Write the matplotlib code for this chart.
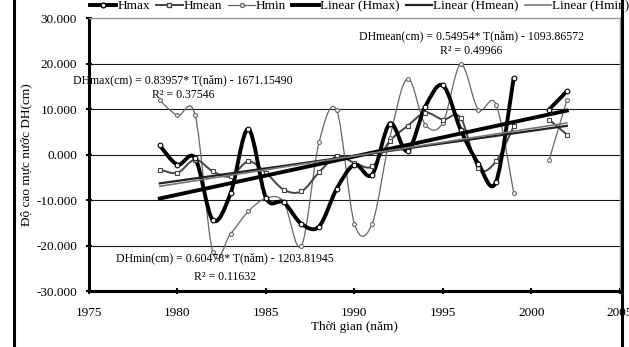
import numpy as np
import matplotlib
matplotlib.use("Agg")
import matplotlib.pyplot as plt
from matplotlib.path import Path
from matplotlib.patches import PathPatch
from matplotlib.lines import Line2D

plt.rcParams["font.family"] = ["Liberation Serif", "DejaVu Serif"]

# water level deviations (cm), no record for 2000
years = [1979, 1980, 1981, 1982, 1983, 1984, 1985, 1986, 1987, 1988, 1989,
         1990, 1991, 1992, 1993, 1994, 1995, 1996, 1997, 1998, 1999,
         2001, 2002]
hmax = [2.0, -2.2, -0.8, -14.4, -8.5, 5.6, -9.5, -10.5, -15.2, -15.8, -7.5,
        -2.2, -4.4, 6.8, 0.8, 10.5, 15.2, 5.5, -2.0, -6.0, 16.9,
        9.9, 13.9]
hmean = [-3.3, -4.0, -1.1, -3.7, -4.8, -1.5, -4.0, -7.7, -8.1, -3.9, -0.4,
         -1.8, -2.6, 3.0, 6.3, 9.2, 7.7, 8.1, -3.0, -1.5, 6.2,
         7.7, 4.4]
hmin = [11.9, 8.6, 8.6, -21.5, -17.4, -12.5, -9.6, -10.4, -20.1, 2.7, 9.7,
        -15.2, -15.2, 3.7, 16.7, 6.6, 7.0, 19.8, 9.9, 11.0, -8.4,
        -1.2, 11.9]

# number of points before the 2000 gap
first_run = 21

# linear trends: slope, intercept, R^2
trend_max = (0.83957, -1671.15490, 0.37546)
trend_mean = (0.54954, -1093.86572, 0.49966)
trend_min = (0.60478, -1203.81945, 0.11632)

series_names = ["Hmax", "Hmean", "Hmin"]
trend_names = ["Linear (Hmax)", "Linear (Hmean)", "Linear (Hmin)"]
y_ticks = [30, 20, 10, 0, -10, -20, -30]
x_ticks = [1975, 1980, 1985, 1990, 1995, 2000, 2005]


def smooth_path(xs, ys):
    # Catmull-Rom style bezier through the points, like a spreadsheet smoothed line
    pts = np.column_stack([xs, ys]).astype(float)
    verts = [pts[0]]
    codes = [Path.MOVETO]
    n = len(pts)
    for i in range(n - 1):
        p0 = pts[i - 1] if i > 0 else pts[i]
        p1 = pts[i]
        p2 = pts[i + 1]
        p3 = pts[i + 2] if i + 2 < n else pts[i + 1]
        c1 = p1 + (p2 - p0) / 6.0
        c2 = p2 - (p3 - p1) / 6.0
        verts += [c1, c2, p2]
        codes += [Path.CURVE4] * 3
    return Path(verts, codes)


def draw_series(ax, values, color, lw, marker, ms):
    x = np.array(years)
    y = np.array(values)
    for sl in (slice(0, first_run), slice(first_run, None)):
        patch = PathPatch(
            smooth_path(x[sl], y[sl]),
            facecolor="none",
            edgecolor=color,
            lw=lw,
            zorder=3
        )
        ax.add_patch(patch)
    ax.plot(
        x, y,
        linestyle="none",
        marker=marker,
        ms=ms,
        mfc="white",
        mec=color,
        mew=0.8,
        zorder=4
    )


fig = plt.figure(figsize=(6.29, 3.47), dpi=100)
ax = fig.add_axes([0.1415, 0.161, 0.844, 0.787])

for yv in y_ticks[1:-1]:
    ax.axhline(yv, color="#1a1a1a", lw=0.8, zorder=1)

draw_series(ax, hmin, "#666666", 0.9, "o", 2.8)
draw_series(ax, hmean, "#444444", 1.4, "s", 3.0)
draw_series(ax, hmax, "black", 2.8, "o", 3.4)

t = np.array([years[0], years[-1]], dtype=float)
ax.plot(t, trend_max[0] * t + trend_max[1], color="black", lw=2.8, zorder=5)
ax.plot(t, trend_mean[0] * t + trend_mean[1], color="#222222", lw=1.6, zorder=5)
ax.plot(t, trend_min[0] * t + trend_min[1], color="#777777", lw=1.2, zorder=5)

ax.set_xlim(1975, 2005)
ax.set_ylim(-30, 30)
ax.set_xticks(x_ticks)
ax.set_yticks(y_ticks)
ax.set_yticklabels([f"{v:.3f}" for v in y_ticks])
ax.tick_params(axis="both", labelsize=9.5, direction="inout",
               length=5, width=1.5, color="black")
ax.tick_params(axis="x", pad=9)
ax.tick_params(axis="y", pad=6)

for side in ("left", "bottom"):
    ax.spines[side].set_linewidth(2.2)
    ax.spines[side].set_color("black")
for side in ("top", "right"):
    ax.spines[side].set_linewidth(1.0)
    ax.spines[side].set_color("#999999")

ax.set_ylabel("Độ cao mực nước DH(cm)", fontsize=9.5)
ax.yaxis.set_label_coords(-0.107, 0.5)
ax.set_xlabel("Thời gian (năm)", fontsize=9.5)
ax.xaxis.set_label_coords(0.5, -0.108)


def equation(name, trend):
    return f"{name}(cm) = {trend[0]:.5f}* T(năm) - {abs(trend[1]):.5f}"


ax.text(1980.3, 16.4, equation("DHmax", trend_max), fontsize=8.5,
        ha="center", va="center", zorder=6)
ax.text(1980.3, 13.2, f"R² = {trend_max[2]:.5f}", fontsize=8.5,
        ha="center", va="center", zorder=6)
ax.text(1996.6, 26.0, equation("DHmean", trend_mean), fontsize=8.5,
        ha="center", va="center", zorder=6)
ax.text(1996.6, 22.8, f"R² = {trend_mean[2]:.5f}", fontsize=8.5,
        ha="center", va="center", zorder=6)
ax.text(1982.7, -22.8, equation("DHmin", trend_min), fontsize=8.5,
        ha="center", va="center", zorder=6)
ax.text(1982.7, -26.8, f"R² = {trend_min[2]:.5f}", fontsize=8.5,
        ha="center", va="center", zorder=6)

handles = [
    Line2D([], [], color="black", lw=2.8, marker="o", ms=3.4,
           mfc="white", mec="black"),
    Line2D([], [], color="#444444", lw=1.4, marker="s", ms=3.0,
           mfc="white", mec="#444444"),
    Line2D([], [], color="#666666", lw=0.9, marker="o", ms=2.8,
           mfc="white", mec="#666666"),
    Line2D([], [], color="black", lw=2.8),
    Line2D([], [], color="#222222", lw=1.6),
    Line2D([], [], color="#777777", lw=1.2),
]
fig.legend(
    handles,
    series_names + trend_names,
    loc="center left",
    bbox_to_anchor=(0.143, 0.982),
    ncol=6,
    frameon=False,
    fontsize=9.5,
    handlelength=2.0,
    handletextpad=0.1,
    columnspacing=0.45,
    borderaxespad=0,
    borderpad=0
)

# outer chart frame, cut at the right
fig.add_artist(Line2D([14 / 629, 14 / 629], [0, 1], color="black", lw=2.2))
fig.add_artist(Line2D([622 / 629, 622 / 629], [0, 1], color="black", lw=2.2))

fig.savefig("out.png", dpi=100)
